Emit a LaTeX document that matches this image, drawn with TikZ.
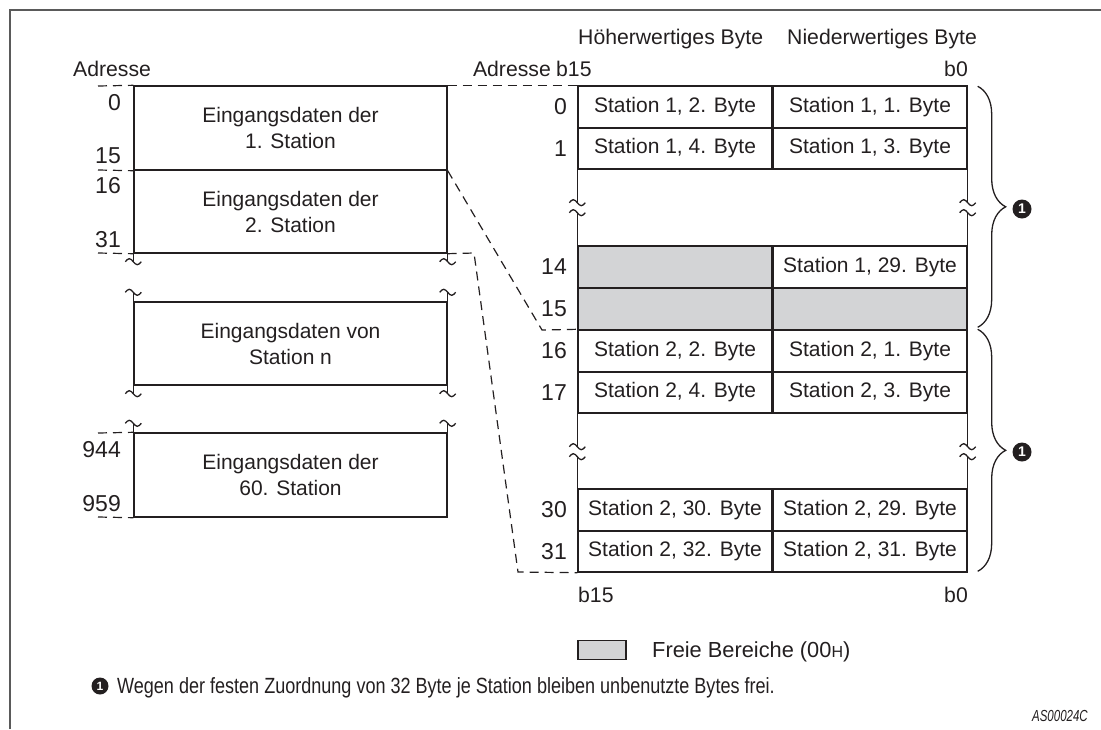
\documentclass[tikz,border=0pt]{standalone}
\usepackage{fontspec}
\setmainfont{Liberation Sans}
\newfontfamily\narrowfont[FakeStretch=0.82]{Liberation Sans}
\newfontfamily\tagfont[FakeStretch=0.72]{Liberation Sans}
\usetikzlibrary{decorations.pathreplacing}
\definecolor{ink}{HTML}{231F20}
\definecolor{framegray}{HTML}{5A5A5A}
\definecolor{freegray}{HTML}{D3D4D6}

\begin{document}
\begin{tikzpicture}[x=1pt,y=-1pt,
  every node/.style={inner sep=0pt, text=ink},
  txt/.style={font=\fontsize{21.2}{26}\selectfont},
  num/.style={font=\fontsize{23}{26}\selectfont},
  membox/.style={draw=ink, line width=1.4pt, minimum width=313pt, align=center,
                 font=\fontsize{21}{26}\selectfont},
  cell/.style={draw=ink, line width=1.4pt, minimum width=194pt,
               font=\fontsize{21}{24}\selectfont},
  free/.style={fill=freegray},
  edge/.style={draw=ink, line width=1.4pt},
  link/.style={draw=ink, line width=1.2pt, dash pattern=on 9pt off 6pt},
  bracket/.style={draw=ink, line width=1.3pt, decorate,
                  decoration={brace, amplitude=28pt}},
  badge/.style={circle, fill=ink, text=white, minimum size=19pt,
                font=\bfseries\fontsize{14}{14}\selectfont},
  smallbadge/.style={badge, minimum size=17pt, font=\bfseries\fontsize{12}{12}\selectfont},
  wave/.pic={\draw[ink, line width=1.3pt] (-8,0) sin (-4,-3) cos (0,0) sin (4,3) cos (8,0);}
]
\useasboundingbox (0,0) rectangle (1101,729);

% outer frame
\draw[framegray, line width=1.6pt] (10,729) -- (10,10) -- (1101,10);

% ---------------- left column: station input areas ----------------
\node[txt, anchor=base west] (adrL) at (73,76) {Adresse};

\node[membox, minimum height=84pt] (st1) at (290.5,128) {Eingangsdaten der\\1. Station};
\node[membox, minimum height=83pt] (st2) at (290.5,211.5) {Eingangsdaten der\\2. Station};
\node[membox, minimum height=83pt] (stn) at (290.5,343.5) {Eingangsdaten von\\Station n};
\node[membox, minimum height=84pt] (st60) at (290.5,475) {Eingangsdaten der\\60. Station};

% break marks between the boxes
\draw[edge] (st2.south west) -- ++(0,8) pic {wave};
\draw[edge] (st2.south east) -- ++(0,8) pic {wave};
\draw[edge] (stn.north west) -- ++(0,-9) pic {wave};
\draw[edge] (stn.north east) -- ++(0,-9) pic {wave};
\draw[edge] (stn.south west) -- ++(0,8) pic {wave};
\draw[edge] (stn.south east) -- ++(0,8) pic {wave};
\draw[edge] (st60.north west) -- ++(0,-9) pic {wave};
\draw[edge] (st60.north east) -- ++(0,-9) pic {wave};

% address labels with dashed ticks
\node[num, anchor=base east] (a0) at (121,110) {0};
\node[num, anchor=base east] (a15) at (121,163) {15};
\node[num, anchor=base east] (a16) at (121,193) {16};
\node[num, anchor=base east] (a31) at (121,247) {31};
\node[num, anchor=base east] (a944) at (121,457) {944};
\node[num, anchor=base east] (a959) at (121,511) {959};
\coordinate (t0) at (98,86);
\coordinate (t16) at (98,170);
\coordinate (t31) at (98,253);
\coordinate (t944) at (98,433);
\coordinate (t959) at (98,517);
\draw[link] (t0) -- (st1.north west);
\draw[link] (t16) -- (st1.south west);
\draw[link] (t31) -- (st2.south west);
\draw[link] (t944) -- (st60.north west);
\draw[link] (t959) -- (st60.south west);

% ---------------- right column: buffer memory words ----------------
\node[txt, anchor=base west] (hi) at (578,44) {Höherwertiges Byte};
\node[txt, anchor=base west] (lo) at (787,44) {Niederwertiges Byte};
\node[txt, anchor=base east] (adrR) at (551,76) {Adresse};
\node[txt, anchor=base west] (b15t) at (556,76) {b15};
\node[txt, anchor=base east] (b0t) at (968,76) {b0};
\node[txt, anchor=base west] (b15b) at (578,602) {b15};
\node[txt, anchor=base east] (b0b) at (968,602) {b0};

% words of station 1
\node[cell, minimum height=42pt] (h0) at (675,107) {Station 1, 2. Byte};
\node[cell, minimum height=42pt] (l0) at (870,107) {Station 1, 1. Byte};
\node[cell, minimum height=41pt] (h1) at (675,148.5) {Station 1, 4. Byte};
\node[cell, minimum height=41pt] (l1) at (870,148.5) {Station 1, 3. Byte};
\node[cell, free, minimum height=42pt] (h14) at (675,267) {};
\node[cell, minimum height=42pt] (l14) at (870,267) {Station 1, 29. Byte};
\node[cell, free, minimum height=42pt] (h15) at (675,309) {};
\node[cell, free, minimum height=42pt] (l15) at (870,309) {};
% words of station 2
\node[cell, minimum height=42pt] (h16) at (675,351) {Station 2, 2. Byte};
\node[cell, minimum height=42pt] (l16) at (870,351) {Station 2, 1. Byte};
\node[cell, minimum height=41pt] (h17) at (675,392.5) {Station 2, 4. Byte};
\node[cell, minimum height=41pt] (l17) at (870,392.5) {Station 2, 3. Byte};
\node[cell, minimum height=42pt] (h30) at (675,510) {Station 2, 30. Byte};
\node[cell, minimum height=42pt] (l30) at (870,510) {Station 2, 29. Byte};
\node[cell, minimum height=41pt] (h31) at (675,551.5) {Station 2, 32. Byte};
\node[cell, minimum height=41pt] (l31) at (870,551.5) {Station 2, 31. Byte};

% word addresses
\node[num, anchor=east] (w0) at (567,107) {0};
\node[num, anchor=east] (w1) at (567,148.5) {1};
\node[num, anchor=east] (w14) at (567,267) {14};
\node[num, anchor=east] (w15) at (567,309) {15};
\node[num, anchor=east] (w16) at (567,351) {16};
\node[num, anchor=east] (w17) at (567,392.5) {17};
\node[num, anchor=east] (w30) at (567,510) {30};
\node[num, anchor=east] (w31) at (567,551.5) {31};

% omitted words: side walls with break marks
\draw[edge] (h1.south west) -- ++(0,33) pic {wave} ++(0,10) pic {wave} -- (h14.north west);
\draw[edge] (l1.south east) -- ++(0,33) pic {wave} ++(0,10) pic {wave} -- (l14.north east);
\draw[edge] (h17.south west) -- ++(0,33) pic {wave} ++(0,10) pic {wave} -- (h30.north west);
\draw[edge] (l17.south east) -- ++(0,33) pic {wave} ++(0,10) pic {wave} -- (l30.north east);

% mapping of the station areas onto the words
\coordinate (k15) at (542,330);
\coordinate (k31a) at (474,253);
\coordinate (k31b) at (518,572);
\draw[link] (st1.north east) -- (h0.north west);
\draw[link] (st1.south east) -- (k15) -- (h16.north west);
\draw[link] (st2.south east) -- (k31a) -- (k31b) -- (h31.south west);

% 32 bytes per station
\draw[bracket] (l0.north east) ++(10,1) -- ++(0,241);
\draw[bracket] (l16.north east) ++(10,0) -- ++(0,242);
\node[badge] (m1) at (1022,209) {1};
\node[badge] (m2) at (1022,452) {1};

% legend and note
\node[draw=ink, fill=freegray, line width=1.2pt, minimum width=48pt, minimum height=19pt] (key) at (602,650) {};
\node[anchor=base west, font=\fontsize{21.8}{24}\selectfont] (keytxt) at (652,657)
  {Freie Bereiche (00{\fontsize{16}{16}\selectfont H})};
\node[smallbadge] (m3) at (100,686) {1};
\node[anchor=base west, font=\narrowfont\fontsize{22}{26}\selectfont] (note) at (117,693)
  {Wegen der festen Zuordnung von 32 Byte je Station bleiben unbenutzte Bytes frei.};
\node[anchor=base east, font=\tagfont\itshape\fontsize{16}{16}\selectfont] (fig) at (1088,721) {AS00024C};
\end{tikzpicture}
\end{document}
